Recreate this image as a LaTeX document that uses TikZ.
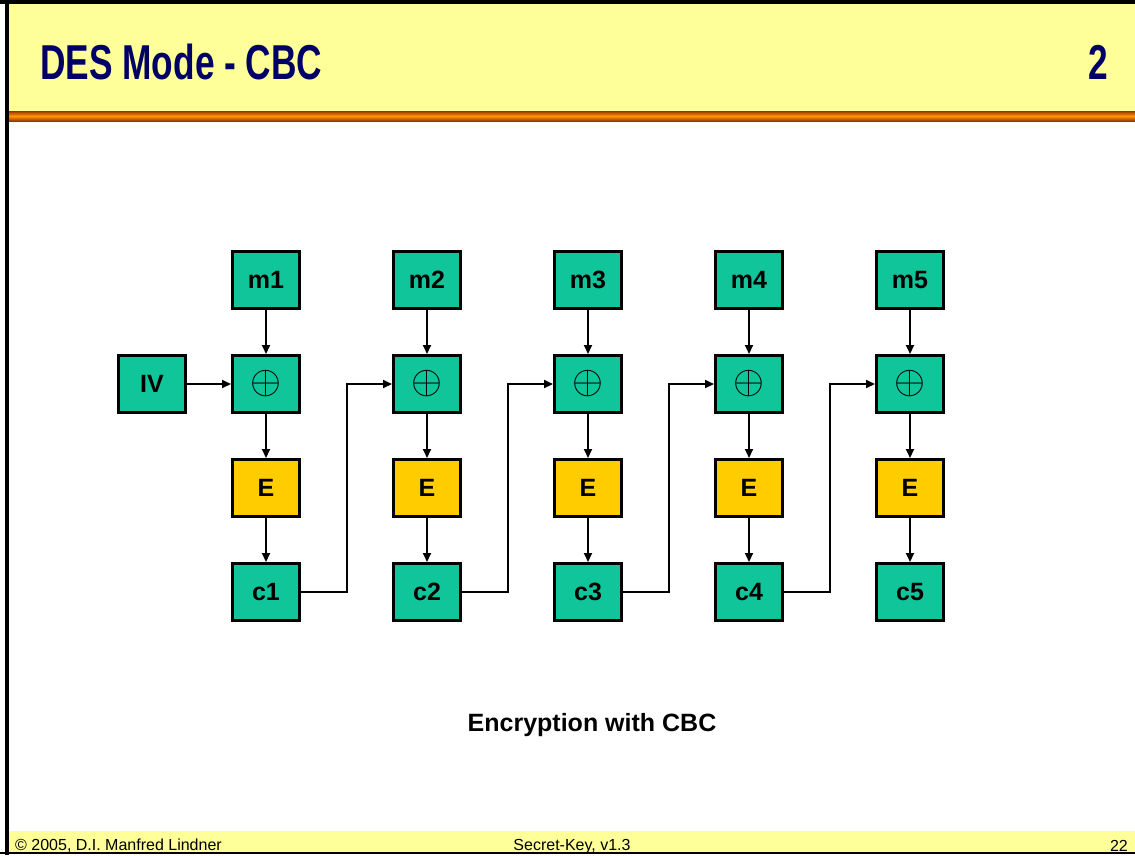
\documentclass[tikz,border=0pt]{standalone}
\usepackage{fontspec}
\setmainfont{Liberation Sans}
\newfontfamily\titlefont{Liberation Sans}[FakeStretch=0.72]
\usetikzlibrary{calc,positioning,arrows.meta}
\definecolor{band}{HTML}{FFFF99}
\definecolor{navy}{HTML}{000066}
\definecolor{boxgreen}{HTML}{10C59A}
\definecolor{encgold}{HTML}{FFCC00}
\definecolor{rulemid}{HTML}{FF9900}
\definecolor{ruledark}{HTML}{993300}
\tikzset{
  blk/.style={draw=black, fill=boxgreen, line width=3pt, minimum width=67pt,
    minimum height=57pt, inner sep=0pt, font=\fontsize{25}{25}\selectfont\bfseries},
  enc/.style={blk, fill=encgold},
  conn/.style={draw=black, line width=2pt, line join=miter,
    -{Triangle[length=9pt,width=8pt]}},
  lab/.style={inner sep=0pt},
}
\begin{document}
\begin{tikzpicture}[x=1pt,y=-1pt]
  \useasboundingbox (0,0) rectangle (1135,855);
  \fill[white] (0,0) rectangle (1135,855);
  % title band and rule
  \fill[band] (9,4) rectangle (1135,111);
  \shade[top color=ruledark, bottom color=ruledark, middle color=rulemid] (9,111) rectangle (1135,121);
  % footer band
  \fill[band] (9,831) rectangle (1135,852);
  % frame
  \draw[black, line width=4pt] (7,0) -- (7,855);
  \draw[black, line width=4pt] (0,2) -- (1135,2);
  \draw[black, line width=2pt] (0,853) -- (1135,853);
  \node[lab, anchor=base west, text=navy, font=\titlefont\fontsize{49}{49}\selectfont\bfseries] (title) at (40,79) {DES Mode - CBC};
  \node[lab, anchor=base east, text=navy, font=\titlefont\fontsize{49}{49}\selectfont\bfseries] (pagenum) at (1108,79) {2};
  % cipher stages
  \foreach \i/\cx in {1/266,2/427,3/588,4/749,5/910} {
    \node[blk] (m\i) at (\cx,280) {m\i};
    \node[blk] (x\i) at (\cx,384) {\scalebox{1.6}{$\oplus$}};
    \node[enc] (e\i) at (\cx,488) {E};
    \node[blk] (c\i) at (\cx,592) {c\i};
    \draw[conn] (m\i) -- (x\i);
    \draw[conn] (x\i) -- (e\i);
    \draw[conn] (e\i) -- (c\i);
  }
  \node[blk] (iv) at (152,384) {IV};
  \draw[conn] (iv) -- (x1);
  % chaining
  \foreach \i/\j in {1/2,2/3,3/4,4/5}
    \draw[conn] (c\i.east) -- ($(c\i.east)!.5!(c\j.west)$) |- (x\j.west);
  \node[lab, anchor=base, font=\fontsize{25}{25}\selectfont\bfseries] (caption) at (592,731) {Encryption with CBC};
  % footer
  \node[lab, anchor=base west, font=\fontsize{16}{16}\selectfont] (foot1) at (15,850) {© 2005, D.I. Manfred Lindner};
  \node[lab, anchor=base, font=\fontsize{16}{16}\selectfont] (foot2) at (572,850) {Secret-Key, v1.3};
  \node[lab, anchor=base east, font=\fontsize{16}{16}\selectfont] (foot3) at (1128,851) {22};
\end{tikzpicture}
\end{document}
